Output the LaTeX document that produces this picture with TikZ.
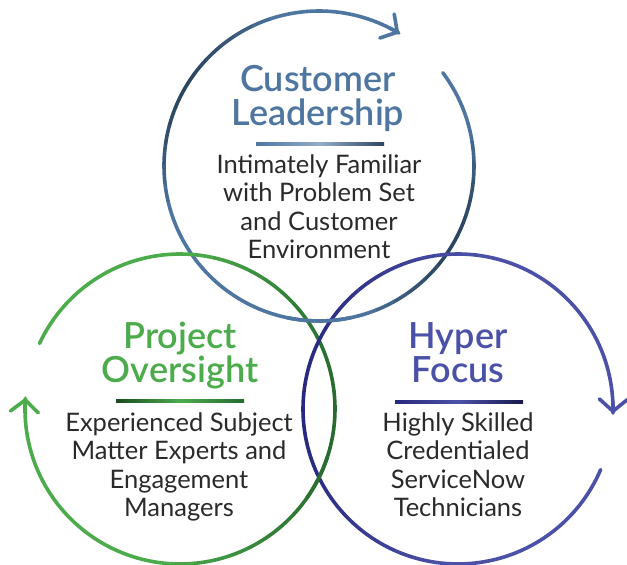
\documentclass[tikz,border=0pt]{standalone}
\usepackage{fontspec}
\setmainfont{Lato}
\newfontfamily\headfont{Lato Semibold}
\usetikzlibrary{arrows.meta,positioning}

\definecolor{clblue}{HTML}{4E76A0}
\definecolor{cldark}{HTML}{2C4660}
\definecolor{pogreen}{HTML}{4CAC4C}
\definecolor{podark}{HTML}{276A2E}
\definecolor{hfblue}{HTML}{4B51A7}
\definecolor{hfdark}{HTML}{28297E}
\definecolor{txtgray}{HTML}{2A2A2A}

\tikzset{
  ring/.style={line width=3.6pt, line cap=round},
  ringtip/.style={-{Straight Barb[length=12pt,width=28pt,round]}},
  headline/.style={font=\fontsize{36}{34}\selectfont\headfont, align=center, inner sep=0pt},
  blurb/.style={font=\fontsize{25.5}{28.5}\selectfont, align=center, inner sep=0pt, text=txtgray},
  rulebar/.style={minimum width=128pt, minimum height=2.6pt, inner sep=0pt},
}

% ring in short pieces: centre, start, end, light, dark, dark angle, frequency
\newcommand\shadedring[7]{%
  \foreach \k in {1,...,48}{
    \pgfmathsetmacro\aa{#2+(#3-#2)*(\k-1)/48}
    \pgfmathsetmacro\ab{#2+(#3-#2)*\k/48}
    \pgfmathtruncatemacro\dk{max(0,100*cos(#7*((\aa+\ab)/2-#6)))}
    \draw[ring, draw=#5!\dk!#4] (#1) ++(\aa:155) arc[start angle=\aa, end angle=\ab, radius=155];
  }
  \pgfmathtruncatemacro\dk{max(0,100*cos(#7*(#3-#6)))}
  \draw[ring, ringtip, draw=#5!\dk!#4] (#1) ++(#3+4:155) arc[start angle=#3+4, end angle=#3, radius=155];
}
% redraw a piece of a ring on top
\newcommand\overpiece[7]{%
  \foreach \k in {1,...,6}{
    \pgfmathsetmacro\aa{#2+(#3-#2)*(\k-1)/6}
    \pgfmathsetmacro\ab{#2+(#3-#2)*\k/6}
    \pgfmathtruncatemacro\dk{max(0,100*cos(#7*((\aa+\ab)/2-#6)))}
    \draw[ring, line cap=butt, draw=#5!\dk!#4] (#1) ++(\aa:155) arc[start angle=\aa, end angle=\ab, radius=155];
  }
}

\begin{document}
\begin{tikzpicture}[x=1pt, y=1pt]
\useasboundingbox (0,0) rectangle (627,565);

\coordinate (cl) at (319,399);
\coordinate (po) at (180,156);
\coordinate (hf) at (458,156);

% the three rings, woven
\shadedring{cl}{37}{-301}{clblue}{cldark}{150}{2}
\shadedring{po}{155}{-184}{pogreen}{podark}{355}{1}
\shadedring{hf}{-23}{-361.5}{hfblue}{hfdark}{175}{1}
\overpiece{cl}{258}{282}{clblue}{cldark}{150}{2}
\overpiece{po}{325}{342}{pogreen}{podark}{355}{1}

% Customer Leadership
\node[rulebar, left color=clblue, right color=cldark, middle color=clblue!60!white] (clrule) at (320,421) {};
\node[headline, text=clblue, anchor=base] (cltitle) at (318,439) {Customer\\Leadership};
\node[blurb, anchor=base] (cltext) at (319,306) {Intimately Familiar\\with Problem Set\\and Customer\\Environment};

% Project Oversight
\node[rulebar, left color=podark!70!black, right color=podark, middle color=pogreen] (porule) at (180,164) {};
\node[headline, text=pogreen, anchor=base] (potitle) at (180,182) {Project\\Oversight};
\node[blurb, anchor=base] (potext) at (179,48) {Experienced Subject\\Matter Experts and\\Engagement\\Managers};

% Hyper Focus
\node[rulebar, left color=hfdark, right color=hfdark!60!black, middle color=hfblue] (hfrule) at (459,163) {};
\node[headline, text=hfblue, anchor=base] (hftitle) at (458,182) {Hyper\\Focus};
\node[blurb, anchor=base] (hftext) at (458,48) {Highly Skilled\\Credentialed\\ServiceNow\\Technicians};
\end{tikzpicture}
\end{document}
